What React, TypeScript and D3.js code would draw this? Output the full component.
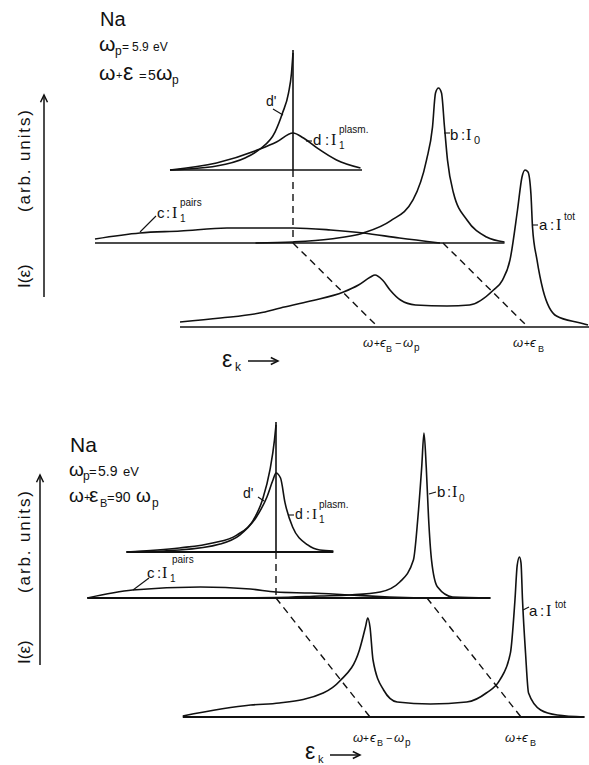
import React from "react";
import * as d3 from "d3";

type Pt = [number, number];

// x: electron energy measured from the plasmon satellite (units of omega_p)
// y: intensity I(eps), arb. units

// upper figure: omega + eps = 5 omega_p
const topTotal: Pt[] = [
  [-1.32, 0.33], [-1.05, 0.6], [-0.79, 0.93], [-0.65, 1.27], [-0.45, 1.73], [-0.23, 2.33],
  [-0.13, 2.8], [-0.05, 3.33], [-0.02, 3.47], [0.03, 3.13], [0.08, 2.47], [0.15, 1.8],
  [0.25, 1.47], [0.46, 1.4], [0.61, 1.47], [0.77, 2.47], [0.83, 3.13], [0.88, 4.47],
  [0.93, 7.8], [0.96, 10], [0.98, 10.47], [1.0, 10.33], [1.02, 8.8], [1.03, 6.67],
  [1.06, 4.47], [1.1, 2.47], [1.19, 0.73], [1.35, 0.27], [1.4, 0.13],
];
const topZeroLoss: Pt[] = [
  [-0.25, 0], [0, 0.07], [0.25, 0.27], [0.47, 0.67], [0.65, 1.47], [0.8, 2.87], [0.89, 5.53],
  [0.93, 7.73], [0.95, 10], [0.97, 10.33], [0.99, 10], [1.01, 7.73], [1.03, 5.53],
  [1.07, 3.33], [1.16, 1.53], [1.29, 0.4], [1.41, 0.07],
];
const topPairs: Pt[] = [
  [-1.32, 0.27], [-1.02, 0.67], [-0.75, 0.8], [-0.44, 1.0], [0, 1.0], [0.25, 0.87],
  [0.47, 0.67], [0.71, 0.33], [0.98, 0],
];
const topPlasmon: Pt[] = [
  [-0.82, 0], [-0.51, 0.47], [-0.22, 1.4], [-0.11, 1.87], [0, 2.47], [0.07, 2.13],
  [0.16, 1.47], [0.29, 0.67], [0.45, 0.13],
];
const topPlasmonPrime: Pt[] = [
  [-0.82, 0], [-0.51, 0.27], [-0.32, 0.8], [-0.22, 1.4], [-0.12, 2.53], [-0.07, 3.8],
  [-0.03, 5.13], [-0.01, 6.47], [0, 7.8],
];

// lower figure: omega + eps_B = 90 omega_p
const botTotal: Pt[] = [
  [-1.24, 0.07], [-0.79, 0.8], [-0.6, 0.93], [-0.31, 1.6], [-0.2, 2.4], [-0.07, 4.47],
  [-0.03, 6.0], [-0.015, 6.6], [0.0, 6.0], [0.02, 3.8], [0.09, 1.8], [0.18, 1.0],
  [0.4, 0.87], [0.64, 1.0], [0.77, 1.6], [0.86, 2.47], [0.93, 4.27], [0.96, 7.8],
  [0.975, 10.13], [0.99, 10.67], [1.0, 10.27], [1.01, 7.8], [1.03, 4.27], [1.05, 1.6],
  [1.13, 0.47], [1.24, 0.13], [1.42, 0],
];
const botZeroLoss: Pt[] = [
  [-0.46, 0], [0, 0.03], [0.29, 0.13], [0.49, 0.2], [0.69, 0.4], [0.82, 1.07], [0.91, 2.53],
  [0.94, 5.4], [0.965, 8.73], [0.98, 11.0], [0.995, 8.73], [1.01, 5.4], [1.03, 2.53],
  [1.07, 0.73], [1.17, 0.07], [1.42, 0],
];
const botPairs: Pt[] = [
  [-1.25, 0], [-0.95, 0.53], [-0.5, 0.73], [-0.17, 0.6], [0, 0.4], [0.23, 0.33],
  [0.49, 0.2], [0.75, 0.07], [0.95, 0],
];
const botPlasmon: Pt[] = [
  [-0.99, 0], [-0.64, 0.13], [-0.37, 0.53], [-0.24, 1.13], [-0.13, 2.33], [-0.06, 3.67],
  [-0.02, 4.8], [0, 5.27], [0.03, 4.93], [0.06, 3.27], [0.11, 1.67], [0.21, 0.47],
  [0.29, 0.13], [0.38, 0.07],
];
const botPlasmonPrime: Pt[] = [
  [-0.99, 0], [-0.64, 0.27], [-0.42, 0.6], [-0.26, 1.13], [-0.15, 2.13], [-0.09, 3.47],
  [-0.04, 5.47], [-0.01, 7.47], [0, 8.47],
];

const INK = "#111";
const SANS = "'Liberation Sans', Arial, sans-serif";
const SERIF = "'Liberation Serif', 'DejaVu Serif', serif";

// text piece: x, y, string, size, italic?, serif?
type Piece = [number, number, string, number, boolean?, boolean?];
type Seg = [number, number, number, number];

const topText: Piece[] = [
  [100, 26, "Na", 20],
  [99, 51, "ω", 21], [115, 55, "p", 12], [122, 51, "=", 12], [132, 51, "5.9", 12], [153, 51, "eV", 12],
  [99, 80, "ω", 21], [116, 79, "+", 11], [123, 80, "ε", 23], [139, 80, "=", 13], [148, 80, "5", 14],
  [156, 80, "ω", 21], [172, 84, "p", 12],
  // series labels
  [266, 106, "d'", 14],
  [313, 145, "d", 15], [325, 145, ":", 15], [331, 145, "I", 16, false, true], [339, 149, "1", 10], [339, 133, "plasm.", 10],
  [450, 140, "b", 15], [461, 140, ":", 15], [466, 140, "I", 16, false, true], [474, 144, "0", 11],
  [539, 230, "a", 15], [550, 230, ":", 15], [556, 230, "I", 16, false, true], [564, 220, "tot", 10],
  [157, 218, "c", 15], [166, 218, ":", 15], [172, 218, "I", 16, false, true], [180, 222, "1", 10], [180, 206, "pairs", 10],
  // energy marks
  [363, 347, "ω", 13, true], [374, 347, "+", 10], [380, 347, "ϵ", 13, true], [386, 352, "B", 9],
  [395, 347, "−", 11], [403, 347, "ω", 13, true], [414, 351, "p", 10],
  [513, 347, "ω", 13, true], [524, 347, "+", 10], [530, 347, "ϵ", 13, true], [538, 352, "B", 9],
  [222, 367, "ε", 23], [235, 371, "k", 12],
];
const topLeaders: Seg[] = [
  [273, 109, 283, 115], [306, 141, 312, 141], [444, 133, 450, 133], [532, 225, 538, 225], [140, 232, 156, 216],
];

const botText: Piece[] = [
  [70, 452, "Na", 21],
  [69, 476, "ω", 19], [83, 480, "p", 12], [89, 476, "=", 13], [98, 476, "5.9", 14], [123, 476, "eV", 13],
  [69, 502, "ω", 19], [84, 501, "+", 11], [89, 502, "ε", 21], [100, 507, "B", 11], [107, 502, "=", 13],
  [115, 502, "90", 14], [136, 502, "ω", 19], [152, 507, "p", 12],
  [243, 498, "d'", 14],
  [295, 519, "d", 14], [306, 519, ":", 14], [312, 519, "I", 15, false, true], [319, 523, "1", 10], [319, 508, "plasm.", 10],
  [437, 497, "b", 15], [447, 497, ":", 15], [452, 497, "I", 16, false, true], [459, 502, "0", 10],
  [529, 616, "a", 15], [540, 616, ":", 15], [546, 616, "I", 16, false, true], [555, 608, "tot", 10],
  [147, 578, "c", 15], [157, 578, ":", 15], [162, 578, "I", 16, false, true], [170, 582, "1", 10], [172, 563, "pairs", 10],
  [353, 742, "ω", 13, true], [363, 742, "+", 10], [370, 742, "ϵ", 13, true], [377, 746, "B", 9],
  [386, 742, "−", 11], [394, 742, "ω", 13, true], [405, 746, "p", 10],
  [505, 742, "ω", 13, true], [516, 742, "+", 10], [522, 742, "ϵ", 13, true], [530, 746, "B", 9],
  [305, 759, "ε", 23], [318, 763, "k", 11],
];
const botLeaders: Seg[] = [
  [258, 497, 264, 501], [288, 515, 294, 515], [429, 494, 436, 492], [523, 610, 529, 607], [133, 590, 149, 578],
];

const layouts = [
  {
    ePx: 150, iPx: 150,
    a: [378, 327], bc: [293, 243], d: [293, 170],
    aSpan: [-1.32, 1.41], bcSpan: [-1.32, 1.41], dSpan: [-0.82, 0.46],
    baseW: 1.5,
    axis: [44, 297, 95], ylab: [30, 288, 212],
    ek: [248, 278, 361],
    series: [topTotal, topZeroLoss, topPairs, topPlasmon, topPlasmonPrime],
    text: topText, leaders: topLeaders,
  },
  {
    ePx: 151, iPx: 150,
    a: [370, 717], bc: [276, 598], d: [276, 552],
    aSpan: [-1.24, 1.42], bcSpan: [-1.25, 1.42], dSpan: [-0.99, 0.38],
    baseW: 2,
    axis: [40, 665, 475], ylab: [30, 664, 593],
    ek: [330, 360, 755],
    series: [botTotal, botZeroLoss, botPairs, botPlasmon, botPlasmonPrime],
    text: botText, leaders: botLeaders,
  },
];

function Arrow({ x1, y1, x2, y2 }: { x1: number; y1: number; x2: number; y2: number }) {
  const ang = Math.atan2(y2 - y1, x2 - x1);
  const L = 8, w = 0.45;
  const p1 = [x2 - L * Math.cos(ang - w), y2 - L * Math.sin(ang - w)];
  const p2 = [x2 - L * Math.cos(ang + w), y2 - L * Math.sin(ang + w)];
  return (
    <g stroke={INK} strokeWidth={1.5} fill="none">
      <line x1={x1} y1={y1} x2={x2} y2={y2} />
      <path d={`M${p1[0]},${p1[1]} L${x2},${y2} L${p2[0]},${p2[1]}`} />
    </g>
  );
}

function Panel({ L }: { L: (typeof layouts)[number] }) {
  const sx = d3.scaleLinear().domain([0, 1]).range([0, L.ePx]);
  const sy = d3.scaleLinear().domain([0, 10]).range([0, -L.iPx]);
  const line = d3.line<Pt>().x((d) => sx(d[0])).y((d) => sy(d[1])).curve(d3.curveMonotoneX);
  const [total, zero, pairs, plasm, plasmP] = L.series;
  const [ax, ay] = L.a, [bx, by] = L.bc, [dx, dy] = L.d;
  const dTop = plasmP[plasmP.length - 1][1] + 0.2;
  const curve = { fill: "none", stroke: INK, strokeWidth: 1.6, strokeLinejoin: "round" as const };
  const base = (s: number[]) => (
    <line x1={sx(s[0])} x2={sx(s[1])} y1={0} y2={0} stroke={INK} strokeWidth={L.baseW} />
  );
  const dash = { stroke: INK, strokeWidth: 1.4, strokeDasharray: "7 5" };
  const [axX, axB, axT] = L.axis;
  const [ylX, ylB, ylE] = L.ylab;
  return (
    <g>
      {/* dashed guides */}
      <line x1={dx} y1={dy} x2={bx} y2={by} {...dash} />
      <line x1={bx + sx(0)} y1={by} x2={ax + sx(0)} y2={ay} {...dash} />
      <line x1={bx + sx(1)} y1={by} x2={ax + sx(1)} y2={ay} {...dash} />

      {/* d layer */}
      <g transform={`translate(${dx},${dy})`}>
        {base(L.dSpan)}
        <line x1={0} x2={0} y1={0} y2={sy(dTop)} stroke={INK} strokeWidth={1.6} />
        <path d={line(plasm) || ""} {...curve} />
        <path d={line(plasmP) || ""} {...curve} />
      </g>

      {/* b, c layer */}
      <g transform={`translate(${bx},${by})`}>
        {base(L.bcSpan)}
        <path d={line(pairs) || ""} {...curve} />
        <path d={line(zero) || ""} {...curve} />
      </g>

      {/* a layer */}
      <g transform={`translate(${ax},${ay})`}>
        {base(L.aSpan)}
        <path d={line(total) || ""} {...curve} />
      </g>

      {/* intensity axis */}
      <Arrow x1={axX} y1={axB} x2={axX} y2={axT} />
      <text transform={`translate(${ylX},${ylB}) rotate(-90)`} fontSize={17} fontFamily={SANS} fill={INK}>
        I(ε)
      </text>
      <text transform={`translate(${ylX},${ylE}) rotate(-90)`} fontSize={17} fontFamily={SANS} fill={INK}
        textLength={102} lengthAdjust="spacing">
        (arb. units)
      </text>

      {/* energy arrow */}
      <Arrow x1={L.ek[0]} y1={L.ek[2]} x2={L.ek[1]} y2={L.ek[2]} />

      {L.leaders.map((s, i) => (
        <line key={i} x1={s[0]} y1={s[1]} x2={s[2]} y2={s[3]} stroke={INK} strokeWidth={1.1} />
      ))}
      {L.text.map((p, i) => (
        <text key={i} x={p[0]} y={p[1]} fontSize={p[3]} fill={INK}
          fontStyle={p[4] ? "italic" : "normal"} fontFamily={p[5] ? SERIF : SANS}>
          {p[2]}
        </text>
      ))}
    </g>
  );
}

export default function App() {
  return (
    <svg width={589} height={765} viewBox="0 0 589 765"
      style={{ position: "absolute", left: 0, top: 0, background: "#fff" }}>
      <rect width={589} height={765} fill="#fff" />
      {layouts.map((L, i) => <Panel key={i} L={L} />)}
    </svg>
  );
}
